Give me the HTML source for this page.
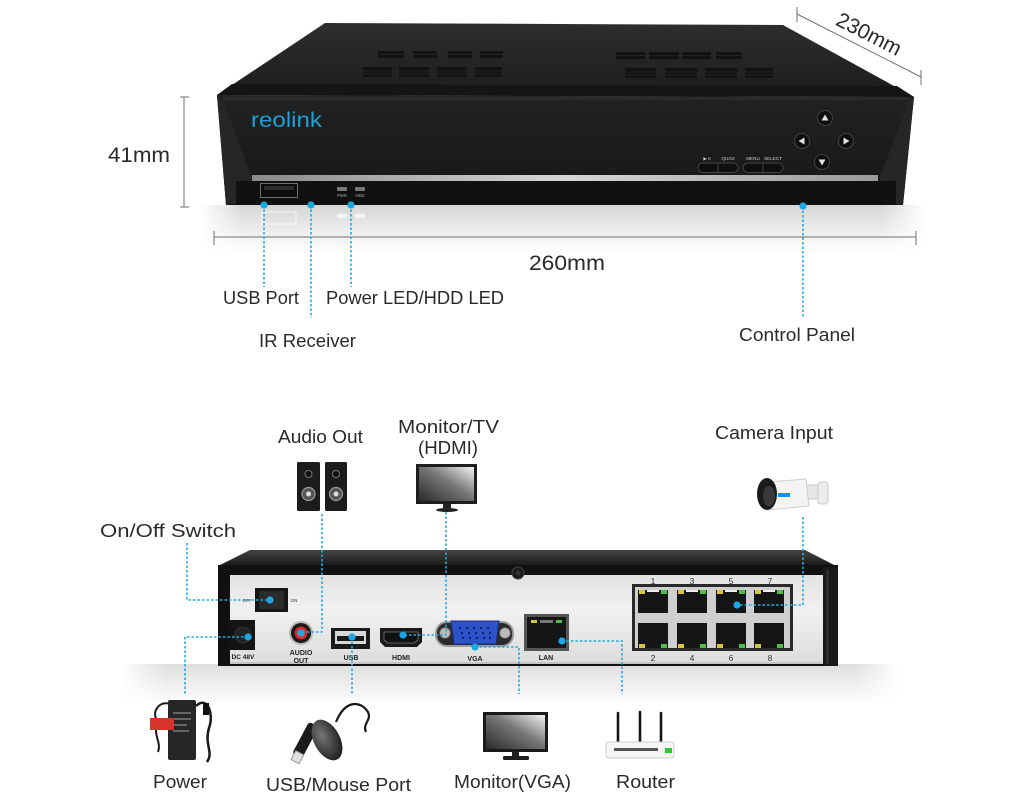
<!DOCTYPE html>
<html><head><meta charset="utf-8">
<style>
html,body{margin:0;padding:0;background:#fff;}
svg{display:block;}
text{font-family:"Liberation Sans",sans-serif;}
</style></head><body>
<svg width="1024" height="800" viewBox="0 0 1024 800" xmlns="http://www.w3.org/2000/svg">
<defs>
 <linearGradient id="topg" x1="0" y1="0" x2="0" y2="1">
  <stop offset="0" stop-color="#2e2e2e"/><stop offset="1" stop-color="#1c1c1c"/>
 </linearGradient>
 <linearGradient id="frontg" x1="0" y1="0" x2="0" y2="1">
  <stop offset="0" stop-color="#222"/><stop offset="0.75" stop-color="#191919"/><stop offset="1" stop-color="#101010"/>
 </linearGradient>
 <radialGradient id="refl" cx="0.5" cy="0" r="0.6" gradientTransform="translate(0.5 0) scale(1 0.12) translate(-0.5 0)">
  <stop offset="0" stop-color="#d8d8d8"/><stop offset="0.6" stop-color="#e8e8e8"/><stop offset="1" stop-color="#ffffff" stop-opacity="0"/>
 </radialGradient>
 <linearGradient id="reflv" x1="0" y1="0" x2="0" y2="1">
  <stop offset="0" stop-color="#d6d6d6"/><stop offset="0.5" stop-color="#ebebeb"/><stop offset="1" stop-color="#ffffff"/>
 </linearGradient>
 <linearGradient id="fadeh" x1="0" y1="0" x2="1" y2="0">
  <stop offset="0" stop-color="#fff" stop-opacity="1"/>
  <stop offset="0.06" stop-color="#fff" stop-opacity="0"/>
  <stop offset="0.94" stop-color="#fff" stop-opacity="0"/>
  <stop offset="1" stop-color="#fff" stop-opacity="1"/>
 </linearGradient>
 <linearGradient id="strip" x1="0" y1="0" x2="1" y2="0">
  <stop offset="0" stop-color="#8a8a8a"/><stop offset="0.5" stop-color="#d6d6d6"/><stop offset="1" stop-color="#9a9a9a"/>
 </linearGradient>
 <linearGradient id="btop" x1="0" y1="0" x2="0" y2="1">
  <stop offset="0" stop-color="#444"/><stop offset="1" stop-color="#161616"/>
 </linearGradient>
 <linearGradient id="panel" x1="0" y1="0" x2="0" y2="1">
  <stop offset="0" stop-color="#e2e2e2"/><stop offset="0.4" stop-color="#f1f1f1"/><stop offset="1" stop-color="#dcdcdc"/>
 </linearGradient>
 <linearGradient id="shadow" x1="0" y1="0" x2="0" y2="1">
  <stop offset="0" stop-color="#dedede"/><stop offset="1" stop-color="#ffffff"/>
 </linearGradient>
 <linearGradient id="screen" x1="0" y1="1" x2="1" y2="0">
  <stop offset="0" stop-color="#2a2a2a"/><stop offset="0.55" stop-color="#777"/><stop offset="1" stop-color="#f4f4f4"/>
 </linearGradient>
 <radialGradient id="mouse" cx="0.4" cy="0.35" r="0.7">
  <stop offset="0" stop-color="#777"/><stop offset="1" stop-color="#1c1c1c"/>
 </radialGradient>
</defs>

<!-- ============ TOP DEVICE ============ -->
<rect x="200" y="205" width="725" height="48" fill="url(#reflv)"/>
<rect x="200" y="205" width="725" height="48" fill="url(#fadeh)"/>
<rect x="262" y="212" width="34" height="12" fill="none" stroke="#f8f8f8" stroke-width="1"/>
<rect x="337" y="214" width="10" height="4" fill="#f6f6f6"/>
<rect x="355" y="214" width="10" height="4" fill="#f6f6f6"/>

<!-- top surface -->
<polygon points="325,23 783,25 914,97 217,95" fill="url(#topg)"/>
<polygon points="232,84 897,86 914,97 217,95" fill="#151515"/>
<!-- vents -->
<g fill="#121212">
 <rect x="378" y="51" width="26" height="7"/><rect x="413" y="51" width="24" height="7"/>
 <rect x="448" y="51" width="24" height="7"/><rect x="480" y="51" width="23" height="7"/>
 <rect x="363" y="67" width="29" height="10"/><rect x="399" y="67" width="30" height="10"/>
 <rect x="437" y="67" width="30" height="10"/><rect x="475" y="67" width="27" height="10"/>
 <rect x="616" y="52" width="29" height="7"/><rect x="649" y="52" width="30" height="7"/>
 <rect x="682" y="52" width="29" height="7"/><rect x="716" y="52" width="26" height="7"/>
 <rect x="625" y="68" width="31" height="10"/><rect x="665" y="68" width="32" height="10"/>
 <rect x="705" y="68" width="32" height="10"/><rect x="745" y="68" width="28" height="10"/>
</g>
<g stroke="#2a2a2a" stroke-width="0.8">
 <line x1="363" y1="71" x2="502" y2="71"/><line x1="363" y1="74" x2="502" y2="74"/>
 <line x1="625" y1="72" x2="773" y2="72"/><line x1="625" y1="75" x2="773" y2="75"/>
 <line x1="378" y1="54.5" x2="503" y2="54.5"/><line x1="616" y1="55.5" x2="742" y2="55.5"/>
</g>

<!-- front face -->
<polygon points="217,95 914,97 903,205 226,205" fill="url(#frontg)"/>
<polygon points="217,96 223,100 252,178 236,204 226,205" fill="#262626"/>
<polygon points="914,97 909,101 879,180 895,204 903,205" fill="#262626"/>
<rect x="223" y="97" width="686" height="3" fill="#2b2b2b"/>
<rect x="236" y="181" width="660" height="24" fill="#111"/>
<rect x="252" y="175" width="626" height="6" fill="url(#strip)"/>

<!-- logo -->
<text x="251" y="127" font-size="21" fill="#1e9fd8" textLength="71" lengthAdjust="spacingAndGlyphs">reolink</text>

<!-- arrow buttons -->
<g fill="#0d0d0d" stroke="#3c3c3c" stroke-width="1.2">
 <circle cx="825" cy="118" r="7.5"/><circle cx="802" cy="141" r="7.5"/>
 <circle cx="846" cy="141" r="7.5"/><circle cx="822" cy="162" r="7.5"/>
</g>
<g fill="#e0e0e0">
 <polygon points="825,114.5 821.5,120.5 828.5,120.5"/>
 <polygon points="798.5,141 804.5,137.5 804.5,144.5"/>
 <polygon points="849.5,141 843.5,137.5 843.5,144.5"/>
 <polygon points="822,165.5 818.5,159.5 825.5,159.5"/>
</g>
<!-- pill buttons -->
<g fill="#0f0f0f" stroke="#464646" stroke-width="1">
 <rect x="698" y="163" width="40" height="9.5" rx="4.7"/>
 <rect x="743" y="163" width="40" height="9.5" rx="4.7"/>
</g>
<line x1="718" y1="163" x2="718" y2="172.5" stroke="#464646"/>
<line x1="763" y1="163" x2="763" y2="172.5" stroke="#464646"/>
<g font-size="4.6" fill="#cfcfcf" text-anchor="middle">
 <text x="707" y="160">▶ II</text><text x="728" y="160">QUAD</text>
 <text x="753" y="160">MENU</text><text x="773" y="160">SELECT</text>
</g>

<!-- USB front port, LEDs -->
<rect x="260.5" y="183.5" width="37" height="14" fill="#0c0c0c" stroke="#6e6e6e" stroke-width="1"/>
<rect x="264" y="186" width="30" height="4" fill="#2c2c2c"/>
<rect x="337" y="187" width="10" height="4" rx="1" fill="#777"/>
<rect x="355" y="187" width="10" height="4" rx="1" fill="#777"/>
<g font-size="4.2" fill="#aaa" text-anchor="middle">
 <text x="342" y="197">PWR</text><text x="360" y="197">HDD</text>
</g>

<!-- dimensions -->
<g stroke="#707070" stroke-width="1" fill="none">
 <line x1="184" y1="97" x2="184" y2="207"/>
 <line x1="180" y1="97" x2="189" y2="97"/><line x1="180" y1="207" x2="189" y2="207"/>
 <line x1="214" y1="237" x2="916" y2="237"/>
 <line x1="214" y1="231" x2="214" y2="245"/><line x1="916" y1="231" x2="916" y2="245"/>
 <line x1="797" y1="14" x2="921" y2="77"/>
 <line x1="797" y1="7" x2="797" y2="22"/><line x1="921" y1="70" x2="921" y2="85"/>
</g>
<g fill="#2a2a2a">
 <text x="108" y="162" font-size="21" textLength="62" lengthAdjust="spacingAndGlyphs">41mm</text>
 <text x="529" y="270" font-size="21" textLength="76" lengthAdjust="spacingAndGlyphs">260mm</text>
 <text x="869" y="41" font-size="21" text-anchor="middle" transform="rotate(27 869 34)">230mm</text>
</g>

<!-- top leaders -->
<g stroke="#22ace0" stroke-width="1.6" stroke-dasharray="2.5 2" fill="none">
 <line x1="264" y1="205" x2="264" y2="287"/>
 <line x1="311" y1="205" x2="311" y2="318"/>
 <line x1="351" y1="205" x2="351" y2="287"/>
 <line x1="803" y1="206" x2="803" y2="318"/>
</g>
<g fill="#1aa7e2">
 <circle cx="264" cy="205" r="3.6"/><circle cx="311" cy="205" r="3.6"/>
 <circle cx="351" cy="205" r="3.6"/><circle cx="803" cy="206" r="3.6"/>
</g>
<g fill="#2a2a2a" font-size="18">
 <text x="223" y="304" textLength="76" lengthAdjust="spacingAndGlyphs">USB Port</text>
 <text x="326" y="304" textLength="178" lengthAdjust="spacingAndGlyphs">Power LED/HDD LED</text>
 <text x="259" y="347" textLength="97" lengthAdjust="spacingAndGlyphs">IR Receiver</text>
 <text x="739" y="341" textLength="116" lengthAdjust="spacingAndGlyphs">Control Panel</text>
</g>

<!-- ============ BOTTOM SECTION ============ -->
<rect x="120" y="664" width="780" height="42" fill="url(#shadow)"/>
<rect x="120" y="664" width="780" height="42" fill="url(#fadeh)"/>

<!-- back device -->
<polygon points="250,550 805,550 838,567 218,566" fill="url(#btop)"/>
<rect x="218" y="565" width="620" height="101" fill="#111"/>
<rect x="230" y="575" width="593" height="89" fill="url(#panel)"/>
<rect x="230" y="662" width="593" height="2" fill="#c4c4c4"/>
<rect x="823" y="567" width="15" height="99" fill="#1a1a1a"/>
<rect x="826" y="570" width="3" height="94" fill="#2e2e2e"/>
<!-- screw -->
<circle cx="518" cy="573" r="6" fill="#1a1a1a" stroke="#444" stroke-width="1"/>
<circle cx="518" cy="573" r="2.5" fill="#333"/>

<!-- switch -->
<rect x="255" y="588" width="33" height="24" fill="#161616"/>
<rect x="259" y="591" width="25" height="18" fill="#2b2b2b"/>
<g font-size="4.5" fill="#333" text-anchor="middle">
 <text x="247" y="602">OFF</text><text x="294" y="602">ON</text>
</g>
<!-- DC jack -->
<rect x="230" y="620" width="25" height="30" fill="#141414"/>
<circle cx="243" cy="635" r="8" fill="#222" stroke="#333"/>
<text x="243" y="659" font-size="6.5" font-weight="bold" fill="#222" text-anchor="middle">DC 48V</text>
<!-- RCA -->
<circle cx="301" cy="633" r="12" fill="#b8b8b8"/>
<circle cx="301" cy="633" r="10" fill="#1a1a1a"/>
<circle cx="301" cy="633" r="6.5" fill="#d42a2a"/>
<circle cx="301" cy="633" r="3.5" fill="#eee"/>
<g font-size="7" font-weight="bold" fill="#222" text-anchor="middle">
 <text x="301" y="655">AUDIO</text><text x="301" y="663">OUT</text>
</g>
<!-- USB -->
<rect x="331" y="628" width="39" height="21" fill="#1a1a1a"/>
<rect x="335" y="631" width="31" height="13" fill="#d8d8d8"/>
<rect x="337" y="636" width="27" height="5" fill="#1a1a1a"/>
<text x="351" y="660" font-size="7" font-weight="bold" fill="#222" text-anchor="middle">USB</text>
<!-- HDMI -->
<polygon points="380,628 422,628 422,642 417,647 385,647 380,642" fill="#1a1a1a"/>
<polygon points="384,632 418,632 418,640 414,643 388,643 384,640" fill="#111" stroke="#777" stroke-width="0.8"/>
<text x="401" y="660" font-size="7" font-weight="bold" fill="#222" text-anchor="middle">HDMI</text>
<!-- VGA -->
<rect x="435" y="621" width="79" height="26" rx="12" fill="#9a9a9a"/>
<rect x="437" y="623" width="75" height="22" rx="10" fill="#2a2a2a"/>
<circle cx="445" cy="633" r="5.5" fill="#bbb" stroke="#555"/>
<circle cx="505" cy="633" r="5.5" fill="#bbb" stroke="#555"/>
<polygon points="451,621 499,621 496,644 454,644" fill="#2d52c9" stroke="#1a2f80" stroke-width="1"/>
<g fill="#0d1f5a">
 <circle cx="460" cy="628" r="1.1"/><circle cx="467" cy="628" r="1.1"/><circle cx="474" cy="628" r="1.1"/><circle cx="481" cy="628" r="1.1"/><circle cx="488" cy="628" r="1.1"/>
 <circle cx="462" cy="633" r="1.1"/><circle cx="469" cy="633" r="1.1"/><circle cx="476" cy="633" r="1.1"/><circle cx="483" cy="633" r="1.1"/><circle cx="490" cy="633" r="1.1"/>
 <circle cx="463" cy="638" r="1.1"/><circle cx="470" cy="638" r="1.1"/><circle cx="477" cy="638" r="1.1"/><circle cx="484" cy="638" r="1.1"/><circle cx="490" cy="638" r="1.1"/>
</g>
<text x="475" y="661" font-size="7" font-weight="bold" fill="#222" text-anchor="middle">VGA</text>
<!-- LAN -->
<rect x="524" y="614" width="45" height="37" fill="#555"/>
<rect x="527" y="617" width="39" height="31" fill="#151515"/>
<rect x="531" y="620" width="6" height="3" fill="#d8c63a"/>
<rect x="556" y="620" width="6" height="3" fill="#4fbf4a"/>
<rect x="540" y="620" width="13" height="3" fill="#777"/>
<text x="546" y="660" font-size="7" font-weight="bold" fill="#222" text-anchor="middle">LAN</text>

<!-- PoE block -->
<rect x="632" y="584" width="161" height="67" fill="#2a2a2a"/>
<rect x="635" y="587" width="155" height="61" fill="#cfcfcf"/>
<g fill="#151515">
 <rect x="638" y="590" width="30" height="23"/><rect x="677" y="590" width="30" height="23"/>
 <rect x="716" y="590" width="30" height="23"/><rect x="754" y="590" width="30" height="23"/>
 <rect x="638" y="623" width="30" height="25"/><rect x="677" y="623" width="30" height="25"/>
 <rect x="716" y="623" width="30" height="25"/><rect x="754" y="623" width="30" height="25"/>
</g>
<g fill="#d8c63a">
 <rect x="639" y="590" width="6" height="4"/><rect x="678" y="590" width="6" height="4"/>
 <rect x="717" y="590" width="6" height="4"/><rect x="755" y="590" width="6" height="4"/>
 <rect x="639" y="644" width="6" height="4"/><rect x="678" y="644" width="6" height="4"/>
 <rect x="717" y="644" width="6" height="4"/><rect x="755" y="644" width="6" height="4"/>
</g>
<g fill="#4fbf4a">
 <rect x="661" y="590" width="6" height="4"/><rect x="700" y="590" width="6" height="4"/>
 <rect x="739" y="590" width="6" height="4"/><rect x="777" y="590" width="6" height="4"/>
 <rect x="661" y="644" width="6" height="4"/><rect x="700" y="644" width="6" height="4"/>
 <rect x="739" y="644" width="6" height="4"/><rect x="777" y="644" width="6" height="4"/>
</g>
<g fill="#eee">
 <rect x="647" y="590" width="12" height="2"/><rect x="686" y="590" width="12" height="2"/>
 <rect x="725" y="590" width="12" height="2"/><rect x="763" y="590" width="12" height="2"/>
</g>
<g font-size="8.5" fill="#333" text-anchor="middle">
 <text x="653" y="584">1</text><text x="692" y="584">3</text><text x="731" y="584">5</text><text x="770" y="584">7</text>
 <text x="653" y="661">2</text><text x="692" y="661">4</text><text x="731" y="661">6</text><text x="770" y="661">8</text>
</g>

<!-- bottom leaders -->
<g stroke="#22ace0" stroke-width="1.6" stroke-dasharray="2.5 2" fill="none">
 <path d="M187,543 V600 H270"/>
 <path d="M248,637 H185 V694"/>
 <path d="M322,514 V632 H301"/>
 <path d="M446,512 V635 H403"/>
 <path d="M803,517 V605 H737"/>
 <path d="M352,637 V694"/>
 <path d="M475,647 H519 V694"/>
 <path d="M562,641 H622 V694"/>
</g>
<g fill="#1aa7e2">
 <circle cx="270" cy="600" r="3.6"/><circle cx="248" cy="637" r="3.6"/>
 <circle cx="301" cy="633" r="3.6"/><circle cx="403" cy="635" r="3.6"/>
 <circle cx="737" cy="605" r="3.6"/><circle cx="352" cy="637" r="3.6"/>
 <circle cx="475" cy="647" r="3.6"/><circle cx="562" cy="641" r="3.6"/>
</g>

<!-- speakers -->
<rect x="297" y="462" width="23" height="49" rx="1.5" fill="#1c1c1c"/>
<rect x="325" y="462" width="22" height="49" rx="1.5" fill="#1c1c1c"/>
<g fill="#0d0d0d" stroke="#777" stroke-width="1">
 <circle cx="308.5" cy="474" r="3.5"/><circle cx="336" cy="474" r="3.5"/>
</g>
<g fill="#555" stroke="#999" stroke-width="1.2">
 <circle cx="308.5" cy="494" r="6.5"/><circle cx="336" cy="494" r="6.5"/>
</g>
<circle cx="308.5" cy="494" r="2.5" fill="#ddd"/><circle cx="336" cy="494" r="2.5" fill="#ddd"/>

<!-- monitor HDMI -->
<rect x="416" y="464" width="61" height="40" fill="#1e1e1e"/>
<rect x="419" y="467" width="55" height="34" fill="url(#screen)"/>
<rect x="443" y="504" width="8" height="4" fill="#222"/>
<ellipse cx="447" cy="510" rx="11" ry="2" fill="#222"/>

<!-- camera -->
<g>
 <rect x="806" y="485" width="18" height="14" rx="3" fill="#e6e6e6" stroke="#c8c8c8"/>
 <rect x="818" y="482" width="10" height="22" rx="3" fill="#ececec" stroke="#c8c8c8"/>
 <polygon points="768,482 806,479 809,506 768,510" fill="#f4f4f4" stroke="#cfcfcf" stroke-width="1"/>
 <ellipse cx="767" cy="494" rx="10" ry="16" fill="#1b1b1b"/>
 <ellipse cx="769" cy="496" rx="6" ry="10" fill="#3a3a3a"/>
 <rect x="778" y="493" width="12" height="4" fill="#1e8fd0"/>
</g>

<!-- power adapter -->
<g>
 <path d="M196,706 C208,695 214,715 209,728 C204,745 214,752 207,762" stroke="#1a1a1a" stroke-width="2.5" fill="none"/>
 <path d="M170,704 C160,700 150,712 158,722 C152,735 162,742 158,752" stroke="#1a1a1a" stroke-width="2" fill="none"/>
 <rect x="168" y="700" width="28" height="60" rx="2" fill="#262626"/>
 <g fill="#666"><rect x="173" y="712" width="18" height="2"/><rect x="173" y="718" width="18" height="2"/><rect x="173" y="724" width="14" height="2"/><rect x="173" y="730" width="16" height="2"/></g>
 <rect x="150" y="718" width="24" height="12" fill="#d8342c"/>
 <rect x="203" y="703" width="6" height="12" fill="#111"/>
</g>

<!-- USB stick + mouse -->
<g>
 <path d="M336,722 C345,700 360,700 368,712 C372,720 362,724 366,732" stroke="#1a1a1a" stroke-width="2.2" fill="none"/>
 <rect x="300" y="722" width="11" height="36" rx="3" fill="#1a1a1a" transform="rotate(28 305 740)"/>
 <rect x="293" y="752" width="9" height="10" fill="#e0e0e0" stroke="#999" transform="rotate(28 297 757)"/>
 <ellipse cx="327" cy="740" rx="13" ry="22" fill="url(#mouse)" transform="rotate(-28 327 740)"/>
</g>

<!-- monitor VGA -->
<rect x="483" y="712" width="65" height="40" fill="#1a1a1a"/>
<rect x="486" y="715" width="59" height="34" fill="url(#screen)"/>
<rect x="512" y="752" width="7" height="4" fill="#222"/>
<rect x="503" y="756" width="26" height="4" rx="1.5" fill="#1e1e1e"/>

<!-- router -->
<g stroke="#161616" stroke-width="2.6" stroke-linecap="round">
 <line x1="618" y1="713" x2="618" y2="743"/>
 <line x1="640" y1="712" x2="640" y2="743"/>
 <line x1="661" y1="713" x2="661" y2="743"/>
</g>
<rect x="606" y="742" width="68" height="16" rx="3" fill="#f6f6f6" stroke="#cfcfcf"/>
<rect x="614" y="748" width="44" height="3" fill="#555"/>
<rect x="665" y="748" width="7" height="5" fill="#33c23a"/>

<!-- bottom labels -->
<g fill="#2a2a2a" font-size="18">
 <text x="278" y="443" textLength="85" lengthAdjust="spacingAndGlyphs">Audio Out</text>
 <text x="398" y="433" textLength="101" lengthAdjust="spacingAndGlyphs">Monitor/TV</text>
 <text x="418" y="454" textLength="60" lengthAdjust="spacingAndGlyphs">(HDMI)</text>
 <text x="715" y="439" textLength="118" lengthAdjust="spacingAndGlyphs">Camera Input</text>
 <text x="100" y="537" textLength="136" lengthAdjust="spacingAndGlyphs">On/Off Switch</text>
 <text x="153" y="788" textLength="54" lengthAdjust="spacingAndGlyphs">Power</text>
 <text x="266" y="791" textLength="145" lengthAdjust="spacingAndGlyphs">USB/Mouse Port</text>
 <text x="454" y="788" textLength="117" lengthAdjust="spacingAndGlyphs">Monitor(VGA)</text>
 <text x="616" y="788" textLength="59" lengthAdjust="spacingAndGlyphs">Router</text>
</g>
</svg>
</body></html>
